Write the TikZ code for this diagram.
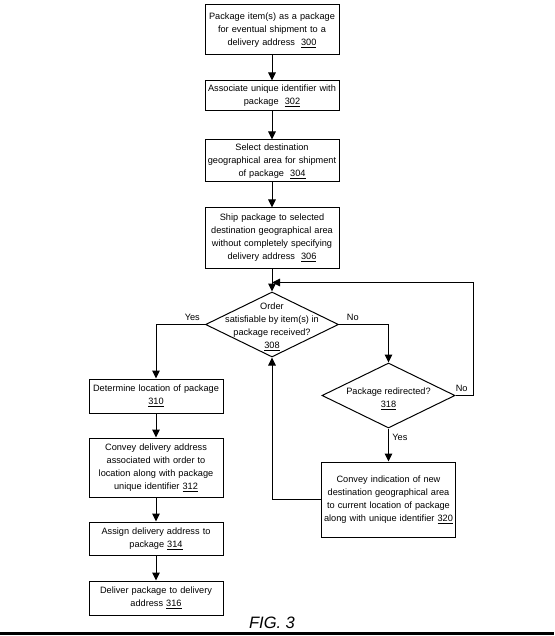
\documentclass[tikz,border=0pt]{standalone}
\usepackage{fontspec}
\setmainfont{Liberation Sans}
\usepackage{tikz}
\usetikzlibrary{arrows.meta, positioning, shapes.geometric, calc}

\begin{document}
\begin{tikzpicture}[
  x=1pt, y=1pt,
  stepbox/.style={rectangle, draw, line width=1pt, minimum width=134pt,
                  align=center, font=\fontsize{9.2}{13}\selectfont,
                  inner sep=1pt, text width=132pt},
  decision/.style={diamond, draw, line width=1pt, inner sep=0pt,
                   minimum width=133pt, minimum height=65pt},
  dtext/.style={align=center, font=\fontsize{9.2}{13}\selectfont},
  yesno/.style={font=\fontsize{9.2}{11}\selectfont},
  arrow/.style={-{Triangle[length=8pt, width=7.5pt]}, line width=1pt},
]
\useasboundingbox (0,0) rectangle (554,-636);

% Main column
\node[stepbox, minimum height=50pt] (s300) at (272,-30)
  {Package item(s) as a package\\for eventual shipment to a\\delivery address\ \ \underline{300}};
\node[stepbox, minimum height=30pt, below=25pt of s300] (s302)
  {Associate unique identifier with\\package\ \ \underline{302}};
\node[stepbox, minimum height=42pt, below=28pt of s302] (s304)
  {Select destination\\geographical area for shipment\\of package\ \ \underline{304}};
\node[stepbox, minimum height=60pt, below=25pt of s304] (s306)
  {Ship package to selected\\destination geographical area\\without completely specifying\\delivery address\ \ \underline{306}};

% Decisions
\node[decision, below=23pt of s306] (d308) {};
\node[dtext] (t308) at ([yshift=-2pt]d308.center)
  {Order\\satisfiable by item(s) in\\package received?\\\underline{308}};
\node[decision] (d318) at (388.5,-395.5) {};
\node[dtext] (t318) at ([yshift=-3pt]d318.center)
  {Package redirected?\\\underline{318}};
\coordinate[above=9pt of d308.north] (m308);
\coordinate[right=17.5pt of d318.east] (r318);

% Yes branch
\node[stepbox, minimum height=34pt] (s310) at (156,-396)
  {Determine location of package\\\underline{310}};
\node[stepbox, minimum height=59pt, below=24pt of s310] (s312)
  {Convey delivery address\\associated with order to\\location along with package\\unique identifier \underline{312}};
\node[stepbox, minimum height=33pt, below=24pt of s312] (s314)
  {Assign delivery address to\\package \underline{314}};
\node[stepbox, minimum height=34pt, below=25pt of s314] (s316)
  {Deliver package to delivery\\address \underline{316}};

% Redirect box
\node[stepbox, minimum height=75pt] (s320) at (388.5,-499.5)
  {Convey indication of new\\destination geographical area\\to current location of package\\along with unique identifier \underline{320}};

% Arrows
\foreach \a/\b in {s300/s302, s302/s304, s304/s306, s306/d308,
                   s310/s312, s312/s314, s314/s316}
  \draw[arrow] (\a.south) -- (\b.north);
\draw[arrow] (d308.west) -| (s310.north) node[yesno, pos=0.13, above] {Yes};
\draw[arrow] (d308.east) -| (d318.north) node[yesno, pos=0.14, above] {No};
\draw[arrow] (d318.south) -- (s320.north) node[yesno, pos=0.26, right] {Yes};
\draw[arrow] (d318.east) -- node[yesno, above, pos=0.35] {No} (r318) |- (m308);
\draw[arrow] (s320.west) -| (d308.south);

% Caption
\node[font=\fontsize{16.5}{18}\selectfont\itshape] (fig) at (272,-623) {FIG. 3};
\draw[line width=3pt] (0,-633) -- (554,-633);
\end{tikzpicture}
\end{document}
